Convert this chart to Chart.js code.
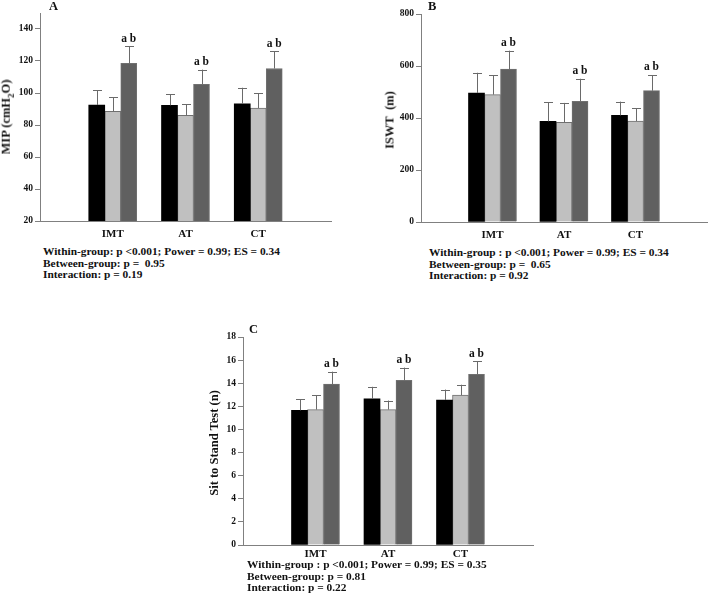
<!DOCTYPE html>
<html lang="en">
<head>
    <meta charset="UTF-8">
    <title>MIP, ISWT and Sit to Stand</title>
    <style>
        body {
            margin: 0;
            width: 714px;
            height: 606px;
            background: #fff;
            position: relative;
            overflow: hidden;
            font-family: "Liberation Serif", "Times New Roman", serif;
            font-weight: bold;
            color: #111;
        }
        canvas { position: absolute; }
        .ytitle {
            position: absolute;
            white-space: nowrap;
            font-size: 12.5px;
            transform: translate(-50%, -50%) rotate(-90deg);
        }
        .letter {
            position: absolute;
            font-size: 12.5px;
            line-height: 12px;
        }
        .stats {
            position: absolute;
            font-size: 11.4px;
            line-height: 11.5px;
            white-space: nowrap;
        }
    </style>
</head>
<body>
    <canvas id="chartA" width="340" height="245" style="left:0;top:0"></canvas>
    <canvas id="chartB" width="354" height="246" style="left:360px;top:0"></canvas>
    <canvas id="chartC" width="390" height="269" style="left:150px;top:300px"></canvas>

    <div class="letter" style="left:49px;top:0">A</div>
    <div class="letter" style="left:428px;top:0">B</div>
    <div class="letter" style="left:249px;top:323px">C</div>

    <div class="ytitle" style="left:7px;top:117px">MIP (cmH<sub style="font-size:9px">2</sub>O)</div>
    <div class="ytitle" style="left:390px;top:120px">ISWT&nbsp;&nbsp;(m)</div>
    <div class="ytitle" style="left:214px;top:443px">Sit to Stand Test (n)</div>

    <div class="stats" style="left:43px;top:246px">Within-group: p &lt;0.001; Power = 0.99; ES = 0.34<br>Between-group: p =&nbsp; 0.95<br>Interaction: p = 0.19</div>
    <div class="stats" style="left:429px;top:247px">Within-group : p &lt;0.001; Power = 0.99; ES = 0.34<br>Between-group: p =&nbsp; 0.65<br>Interaction: p = 0.92</div>
    <div class="stats" style="left:247px;top:559px">Within-group : p &lt;0.001; Power = 0.99; ES = 0.35<br>Between-group: p = 0.81<br>Interaction: p = 0.22</div>

    <script src="https://cdn.jsdelivr.net/npm/chart.js"></script>
    <script>
        const groups = ['IMT', 'AT', 'CT'];
        const sigMarks = ['a b', 'a b', 'a b'];

        // A: MIP (cmH2O)
        const mipT1 = [92.5, 92.3, 93.3];
        const mipT1Err = [9.3, 7.0, 10.0];
        const mipT2 = [88.5, 86.0, 90.6];
        const mipT2Err = [8.7, 7.0, 9.2];
        const mipT3 = [118.5, 105.4, 115.3];
        const mipT3Err = [10.6, 9.2, 10.7];
        const mipTicks = [20, 150, 20]; // min, max, step

        // B: ISWT (m)
        const iswtT1 = [496, 387, 410];
        const iswtT1Err = [78, 73, 53];
        const iswtT2 = [490, 383, 388];
        const iswtT2Err = [74, 75, 50];
        const iswtT3 = [588, 464, 505];
        const iswtT3Err = [71, 87, 60];
        const iswtTicks = [0, 800, 200];

        // C: Sit to Stand Test (n)
        const stsT1 = [11.65, 12.65, 12.55];
        const stsT1Err = [0.98, 1.04, 0.9];
        const stsT2 = [11.72, 11.72, 12.97];
        const stsT2Err = [1.22, 0.78, 0.9];
        const stsT3 = [13.92, 14.25, 14.77];
        const stsT3Err = [1.08, 1.1, 1.12];
        const stsTicks = [0, 18, 2];

        const barColors = ['#000000', '#c0c0c0', '#606060'];
        const axisColor = '#808080';
        const serif = "'Liberation Serif', 'Times New Roman', serif";

        const pad = arr => [null, ...arr, null];

        const errorBars = {
            id: 'errorBars',
            afterDatasetsDraw(chart) {
                const ctx = chart.ctx;
                const y = chart.scales.y;
                ctx.save();
                chart.data.datasets.forEach((ds, i) => {
                    const meta = chart.getDatasetMeta(i);
                    meta.data.forEach((bar, j) => {
                        const v = ds.data[j];
                        if (v === null) return;
                        const top = y.getPixelForValue(v + ds.errors[j]);
                        ctx.strokeStyle = '#6a6a6a';
                        ctx.lineWidth = 1;
                        ctx.beginPath();
                        ctx.moveTo(Math.round(bar.x) + 0.5, bar.y);
                        ctx.lineTo(Math.round(bar.x) + 0.5, top);
                        ctx.moveTo(Math.round(bar.x) - 4, Math.round(top) + 0.5);
                        ctx.lineTo(Math.round(bar.x) + 5, Math.round(top) + 0.5);
                        ctx.stroke();
                        if (ds.marks && ds.marks[j]) {
                            ctx.fillStyle = '#111';
                            ctx.font = 'bold 11.5px ' + serif;
                            ctx.textAlign = 'center';
                            ctx.textBaseline = 'bottom';
                            ctx.fillText(ds.marks[j], bar.x, top - 2);
                        }
                    });
                });
                ctx.restore();
            }
        };

        function makePanel(id, series, errs, ticks, yWidth, padTop, padRight, labelPad) {
            const datasets = series.map((s, i) => ({
                data: pad(s),
                errors: pad(errs[i]),
                marks: i === 2 ? pad(sigMarks) : null,
                backgroundColor: barColors[i],
                borderColor: '#707070',
                borderWidth: i === 0 ? 0 : 1,
                barThickness: 16
            }));
            new Chart(document.getElementById(id), {
                type: 'bar',
                data: { labels: ['', ...groups, ''], datasets },
                options: {
                    responsive: false,
                    animation: false,
                    layout: { padding: { top: padTop, right: padRight, left: 0, bottom: 0 } },
                    plugins: { legend: { display: false }, tooltip: { enabled: false } },
                    scales: {
                        x: {
                            offset: false,
                            afterFit: s => { s.height = 24; },
                            grid: { display: false, drawTicks: false },
                            border: { color: axisColor, width: 1 },
                            ticks: {
                                autoSkip: false, maxRotation: 0, padding: labelPad,
                                color: '#111',
                                font: { family: serif, size: 11, weight: 'bold' }
                            }
                        },
                        y: {
                            min: ticks[0], max: ticks[1],
                            afterFit: s => { s.width = yWidth; },
                            grid: { drawOnChartArea: false, drawTicks: true, tickLength: 5, color: axisColor },
                            border: { color: axisColor, width: 1 },
                            ticks: {
                                stepSize: ticks[2], includeBounds: false, padding: 2,
                                color: '#111',
                                font: { family: serif, size: 9.5, weight: 'bold' }
                            }
                        }
                    }
                },
                plugins: [errorBars]
            });
        }

        makePanel('chartA', [mipT1, mipT2, mipT3], [mipT1Err, mipT2Err, mipT3Err], mipTicks, 40, 13, 9, 7);
        makePanel('chartB', [iswtT1, iswtT2, iswtT3], [iswtT1Err, iswtT2Err, iswtT3Err], iswtTicks, 61, 14, 1, 7);
        makePanel('chartC', [stsT1, stsT2, stsT3], [stsT1Err, stsT2Err, stsT3Err], stsTicks, 93, 37, 7, 3);
    </script>
</body>
</html>
